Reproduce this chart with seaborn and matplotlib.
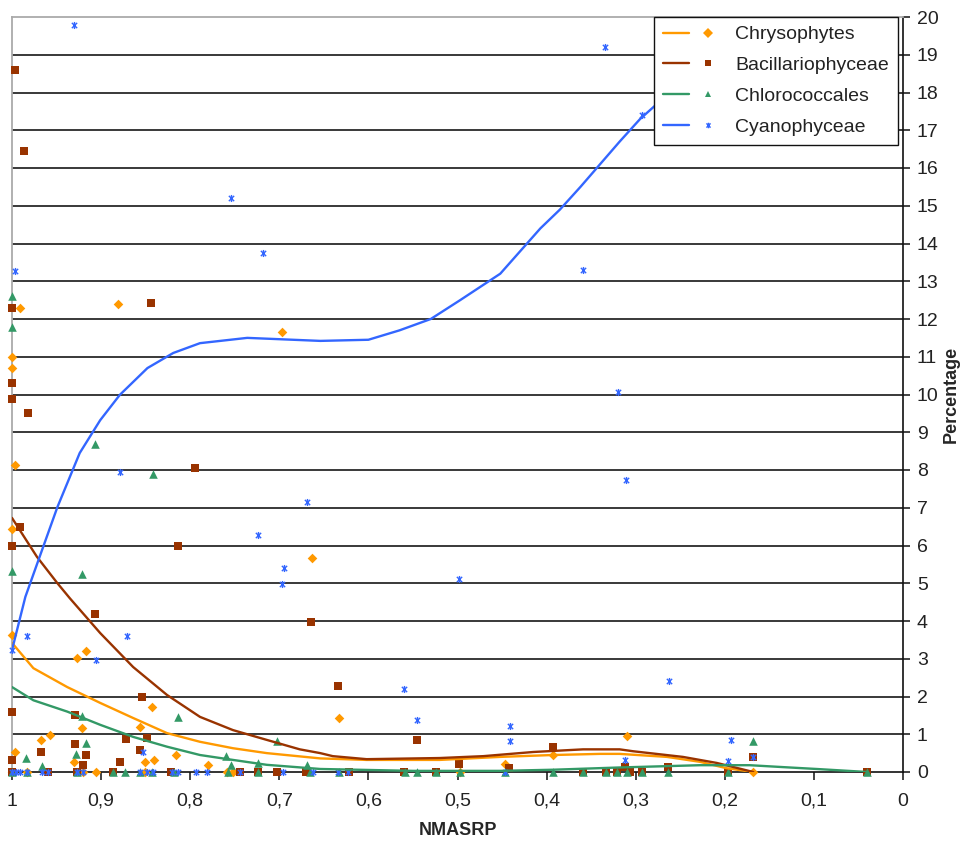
import numpy as np
import pandas as pd
import matplotlib
matplotlib.use("Agg")
import matplotlib.pyplot as plt
import seaborn as sns
from matplotlib.lines import Line2D
from matplotlib.legend_handler import HandlerTuple
from matplotlib.path import Path

# ---------------- data ----------------
series_names = ["Chrysophytes", "Bacillariophyceae", "Chlorococcales", "Cyanophyceae"]

chrys_x = [1.0, 1.0, 0.997, 1.0, 1.0, 0.991, 0.881, 0.697, 0.663, 0.927, 0.917, 0.957,
           0.967, 0.997, 0.921, 0.843, 0.856, 0.816, 0.841, 0.851, 0.930, 0.780, 0.633,
           0.447, 0.393, 0.310, 1.0, 0.983, 0.906, 0.851, 0.759, 0.752, 0.497, 0.168, 0.92]
chrys_y = [11.0, 10.7, 8.13, 6.43, 3.63, 12.3, 12.4, 11.66, 5.67, 3.02, 3.2, 0.98,
           0.85, 0.53, 1.17, 1.72, 1.19, 0.45, 0.32, 0.26, 0.26, 0.19, 1.43,
           0.22, 0.45, 0.95, 0.0, 0.0, 0.0, 0.0, 0.0, 0.0, 0.0, 0.0, 0.0]

bacil_x = [0.997, 0.987, 0.844, 1.0, 1.0, 1.0, 0.982, 0.795, 0.991, 1.0, 0.814, 0.907,
           0.664, 1.0, 0.634, 0.854, 0.545, 0.929, 1.0, 0.967, 0.929, 0.917, 0.872,
           0.849, 0.856, 0.879, 0.92, 0.498, 0.393, 0.442, 0.168, 0.264, 0.312, 0.04,
           1.0, 0.960, 0.927, 0.887, 0.822, 0.744, 0.724, 0.703, 0.670, 0.622, 0.560,
           0.524, 0.359, 0.333, 0.321, 0.306, 0.293, 0.196]
bacil_y = [18.6, 16.45, 12.42, 12.3, 10.3, 9.88, 9.5, 8.05, 6.5, 6.0, 6.0, 4.18,
           3.97, 1.6, 2.28, 2.0, 0.85, 1.5, 0.33, 0.53, 0.75, 0.45, 0.88,
           0.9, 0.58, 0.26, 0.18, 0.22, 0.67, 0.1, 0.4, 0.13, 0.13, 0.0,
           0.0, 0.0, 0.0, 0.0, 0.0, 0.0, 0.0, 0.0, 0.0, 0.0, 0.0,
           0.0, 0.0, 0.0, 0.0, 0.0, 0.0, 0.0]

chloro_x = [1.0, 1.0, 0.907, 0.842, 1.0, 0.921, 0.814, 0.921, 0.917, 0.928, 0.984,
            0.703, 0.76, 0.754, 0.966, 0.168, 0.724, 0.669,
            1.0, 0.983, 0.927, 0.887, 0.873, 0.856, 0.843, 0.818, 0.758, 0.724, 0.665,
            0.633, 0.559, 0.545, 0.524, 0.497, 0.447, 0.393, 0.359, 0.333, 0.321,
            0.31, 0.293, 0.264, 0.196, 0.04]
chloro_y = [12.6, 11.8, 8.7, 7.9, 5.33, 5.25, 1.46, 1.48, 0.77, 0.48, 0.37,
            0.82, 0.42, 0.18, 0.16, 0.82, 0.24, 0.18,
            0.0, 0.0, 0.0, 0.0, 0.0, 0.0, 0.0, 0.0, 0.0, 0.0, 0.0,
            0.0, 0.0, 0.0, 0.0, 0.0, 0.0, 0.0, 0.0, 0.0, 0.0,
            0.0, 0.0, 0.0, 0.0, 0.0]

cyano_x = [0.930, 0.997, 0.754, 0.718, 0.879, 0.669, 0.724, 0.695, 0.697, 0.498, 0.56,
           0.545, 0.441, 0.441, 0.359, 0.334, 0.293, 0.32, 0.311, 0.263, 0.193, 0.312,
           0.196, 0.168, 0.983, 0.871, 0.906, 1.0, 0.853,
           1.0, 0.996, 0.991, 0.983, 0.966, 0.96, 0.927, 0.92, 0.856, 0.849, 0.842,
           0.82, 0.814, 0.793, 0.781, 0.744, 0.696, 0.662, 0.634, 0.623, 0.447]
cyano_y = [19.8, 13.27, 15.2, 13.75, 7.95, 7.15, 6.27, 5.4, 4.98, 5.1, 2.2,
           1.38, 1.22, 0.82, 13.3, 19.2, 17.4, 10.07, 7.73, 2.4, 0.85, 0.33,
           0.3, 0.4, 3.6, 3.6, 2.98, 3.23, 0.54,
           0.0, 0.0, 0.0, 0.0, 0.0, 0.0, 0.0, 0.0, 0.0, 0.0, 0.0,
           0.0, 0.0, 0.0, 0.0, 0.0, 0.0, 0.0, 0.0, 0.0, 0.0]

# trend lines
chrys_fit_x = [1.0, 0.976, 0.938, 0.901, 0.864, 0.826, 0.789, 0.752, 0.714, 0.654, 0.602,
               0.52, 0.452, 0.393, 0.34, 0.318, 0.265, 0.228, 0.198, 0.168]
chrys_fit_y = [3.42, 2.75, 2.25, 1.83, 1.43, 1.03, 0.8, 0.63, 0.5, 0.36, 0.32,
               0.32, 0.4, 0.45, 0.48, 0.48, 0.4, 0.27, 0.1, 0.0]

bacil_fit_x = [1.0, 0.972, 0.949, 0.935, 0.901, 0.864, 0.826, 0.789, 0.752, 0.714, 0.677,
               0.654, 0.64, 0.602, 0.52, 0.471, 0.415, 0.359, 0.318, 0.303, 0.247, 0.209, 0.168]
bacil_fit_y = [6.73, 5.7, 5.0, 4.6, 3.68, 2.78, 2.04, 1.46, 1.11, 0.85, 0.6,
               0.5, 0.42, 0.34, 0.37, 0.42, 0.53, 0.6, 0.6, 0.55, 0.4, 0.24, 0.0]

chloro_fit_x = [1.0, 0.976, 0.938, 0.901, 0.864, 0.826, 0.789, 0.752, 0.714, 0.654, 0.55,
                0.452, 0.393, 0.318, 0.228, 0.172, 0.135, 0.097, 0.04]
chloro_fit_y = [2.25, 1.9, 1.6, 1.25, 0.93, 0.67, 0.45, 0.32, 0.19, 0.08, 0.03,
                0.03, 0.06, 0.12, 0.18, 0.18, 0.13, 0.08, 0.0]

cyano_fit_x = [1.0, 0.985, 0.969, 0.949, 0.924, 0.901, 0.879, 0.848, 0.819, 0.789, 0.736,
               0.654, 0.60, 0.565, 0.53, 0.497, 0.452, 0.407, 0.385, 0.362, 0.34, 0.318,
               0.295, 0.276, 0.25, 0.225]
cyano_fit_y = [3.23, 4.64, 5.7, 7.02, 8.45, 9.32, 9.99, 10.7, 11.1, 11.36, 11.5,
               11.42, 11.45, 11.7, 12.0, 12.5, 13.2, 14.4, 14.9, 15.5, 16.1, 16.7,
               17.3, 17.7, 18.6, 19.5]

x_ticks = [1.0, 0.9, 0.8, 0.7, 0.6, 0.5, 0.4, 0.3, 0.2, 0.1, 0.0]
x_tick_labels = ["1", "0,9", "0,8", "0,7", "0,6", "0,5", "0,4", "0,3", "0,2", "0,1", "0"]
y_ticks = list(range(0, 21))

# ---------------- styling ----------------
# Excel-style asterisk: an "x" with a vertical bar
star_path = Path([(0, -1), (0, 1), (-0.75, -0.75), (0.75, 0.75), (-0.75, 0.75), (0.75, -0.75)],
                 [Path.MOVETO, Path.LINETO, Path.MOVETO, Path.LINETO, Path.MOVETO, Path.LINETO])

colors = {"Chrysophytes": "#FF9900", "Bacillariophyceae": "#993300",
          "Chlorococcales": "#339966", "Cyanophyceae": "#3366FF"}
markers = {"Chrysophytes": "D", "Bacillariophyceae": "s",
           "Chlorococcales": "^", "Cyanophyceae": star_path}
msize = {"Chrysophytes": 24, "Bacillariophyceae": 32,
         "Chlorococcales": 38, "Cyanophyceae": 26}

sns.set_theme(style="white")
plt.rcParams["font.family"] = ["Liberation Sans", "DejaVu Sans"]

fig = plt.figure(figsize=(9.61, 8.42), dpi=100)
ax = fig.add_axes([12 / 961, 1 - 772 / 842, 891 / 961, 755 / 842])

points = {
    "Chrysophytes": (chrys_x, chrys_y),
    "Bacillariophyceae": (bacil_x, bacil_y),
    "Chlorococcales": (chloro_x, chloro_y),
    "Cyanophyceae": (cyano_x, cyano_y),
}
fits = {
    "Chrysophytes": (chrys_fit_x, chrys_fit_y),
    "Bacillariophyceae": (bacil_fit_x, bacil_fit_y),
    "Chlorococcales": (chloro_fit_x, chloro_fit_y),
    "Cyanophyceae": (cyano_fit_x, cyano_fit_y),
}

for name in series_names:
    px, py = points[name]
    df = pd.DataFrame({"x": px, "y": py})
    if name == "Cyanophyceae":
        sns.scatterplot(data=df, x="x", y="y", ax=ax, marker=markers[name],
                        s=msize[name], color=colors[name], edgecolor=colors[name],
                        linewidth=1.0, zorder=3, clip_on=False, legend=False)
    else:
        sns.scatterplot(data=df, x="x", y="y", ax=ax, marker=markers[name],
                        s=msize[name], color=colors[name], linewidth=0,
                        zorder=3, clip_on=False, legend=False)

for name in series_names:
    fx, fy = fits[name]
    dfl = pd.DataFrame({"x": fx, "y": fy})
    sns.lineplot(data=dfl, x="x", y="y", ax=ax, color=colors[name], linewidth=1.7,
                 sort=False, estimator=None, zorder=4, legend=False)

ax.set_xlim(1.0, 0.0)
ax.set_ylim(0, 20)
ax.set_xticks(x_ticks)
ax.set_xticklabels(x_tick_labels)
ax.set_yticks(y_ticks)
ax.yaxis.tick_right()
ax.yaxis.set_label_position("right")

for yv in y_ticks[1:-1]:
    ax.axhline(yv, color="#2a2a2a", linewidth=1.3, zorder=1)

for side in ["left", "top"]:
    ax.spines[side].set_color("#aaaaaa")
    ax.spines[side].set_linewidth(1.3)
for side in ["right", "bottom"]:
    ax.spines[side].set_color("#111111")
    ax.spines[side].set_linewidth(1.2)

ax.tick_params(axis="y", which="both", direction="out", length=5, width=1.1,
               color="#111111", labelsize=14, pad=5, labelcolor="#222222",
               right=True, left=False)
ax.tick_params(axis="x", which="both", direction="out", length=6, width=1.1,
               color="#111111", labelsize=14, pad=9, labelcolor="#222222", bottom=True)

ax.set_xlabel("NMASRP", fontsize=13, fontweight="bold", labelpad=9)
ax.set_ylabel("Percentage", fontsize=13, fontweight="bold", labelpad=3)

handles = []
for name in series_names:
    ln = Line2D([], [], color=colors[name], linewidth=1.7)
    mk = Line2D([], [], color=colors[name], marker=markers[name], linestyle="none",
                markersize=5 if name != "Cyanophyceae" else 4,
                markeredgewidth=0 if name != "Cyanophyceae" else 1.0,
                markeredgecolor=colors[name])
    handles.append((ln, mk))

leg = ax.legend(handles, series_names, loc="upper right",
                bbox_to_anchor=(0.994, 1.0), borderaxespad=0,
                handler_map={tuple: HandlerTuple(ndivide=None, pad=0.3)},
                handlelength=3.0, handletextpad=0.7, labelspacing=0.68,
                fontsize=14, frameon=True, fancybox=False, borderpad=0.45)
leg.get_frame().set_edgecolor("#111111")
leg.get_frame().set_linewidth(1.0)
leg.get_frame().set_facecolor("white")
leg.get_frame().set_alpha(1.0)
leg.set_zorder(10)
for t in leg.get_texts():
    t.set_color("#222222")

fig.savefig("out.png", dpi=100)
